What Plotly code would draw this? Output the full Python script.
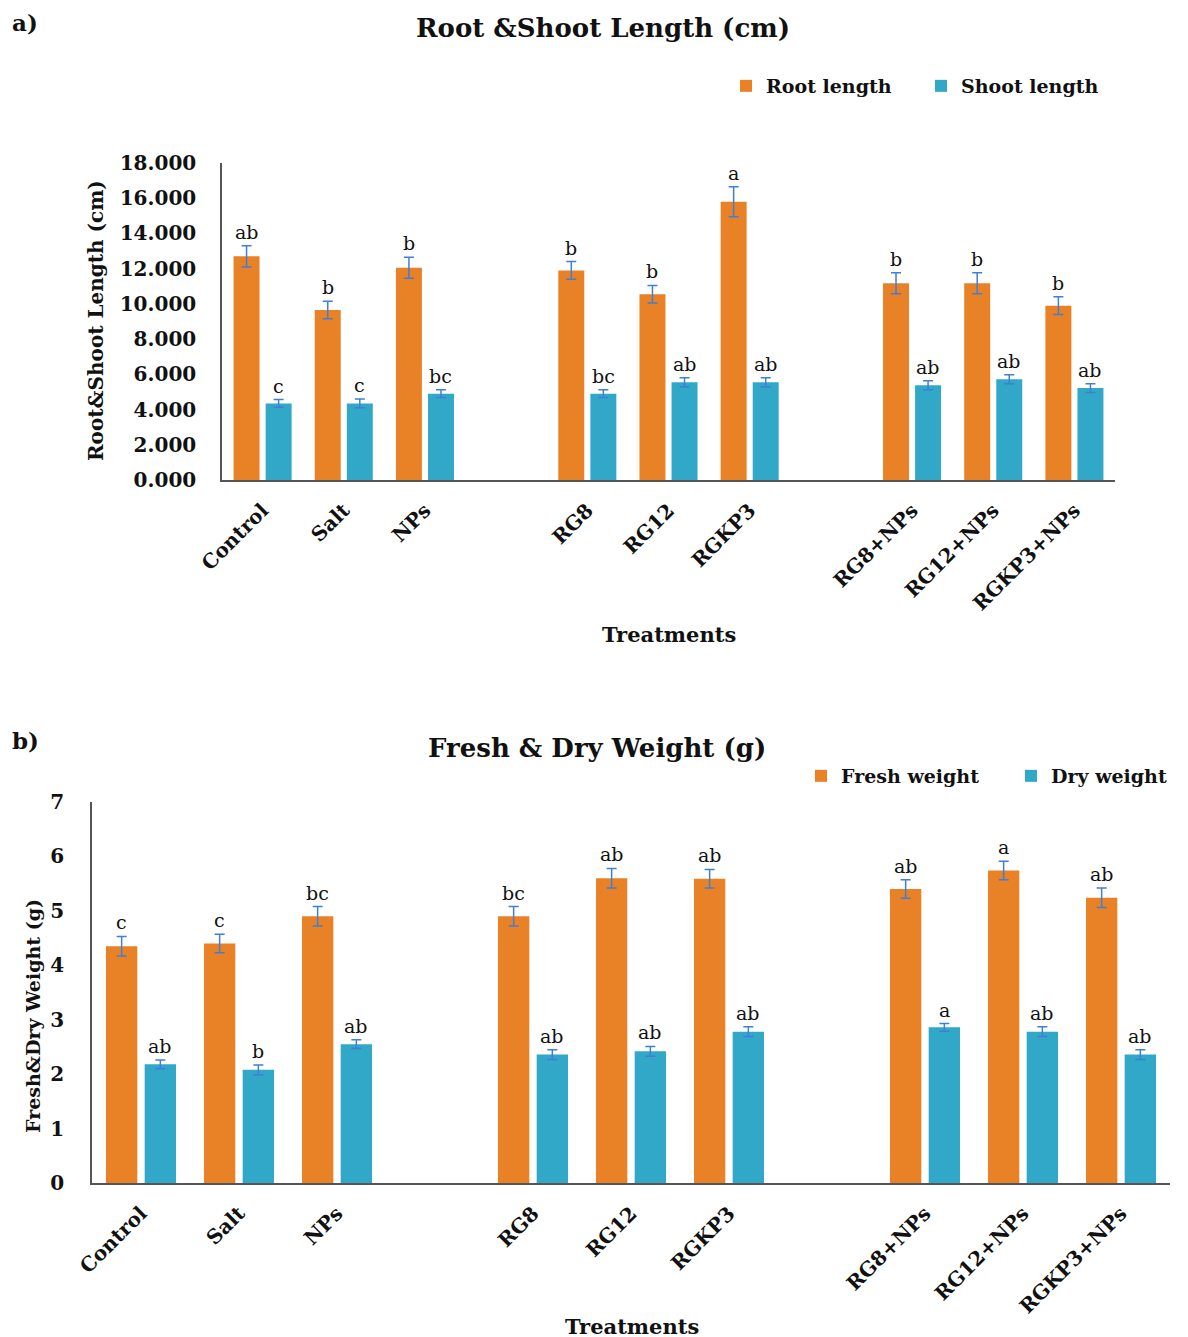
import plotly.graph_objects as go

# ---------------- data ----------------
treatments = ["Control", "Salt", "NPs", "RG8", "RG12", "RGKP3", "RG8+NPs", "RG12+NPs", "RGKP3+NPs"]
slots = [0, 1, 2, 4, 5, 6, 8, 9, 10]   # blank slots 3 and 7 separate the groups

root_length = [12.70, 9.65, 12.05, 11.90, 10.55, 15.80, 11.17, 11.17, 9.90]
root_err = [0.60, 0.50, 0.60, 0.50, 0.50, 0.85, 0.60, 0.60, 0.50]
root_letters = ["ab", "b", "b", "b", "b", "a", "b", "b", "b"]

shoot_length = [4.35, 4.35, 4.90, 4.90, 5.55, 5.55, 5.38, 5.72, 5.22]
shoot_err = [0.22, 0.25, 0.22, 0.22, 0.25, 0.25, 0.25, 0.25, 0.25]
shoot_letters = ["c", "c", "bc", "bc", "ab", "ab", "ab", "ab", "ab"]

fresh_weight = [4.35, 4.40, 4.90, 4.90, 5.60, 5.59, 5.40, 5.74, 5.24]
fresh_err = [0.18, 0.17, 0.18, 0.18, 0.18, 0.17, 0.17, 0.17, 0.18]
fresh_letters = ["c", "c", "bc", "bc", "ab", "ab", "ab", "a", "ab"]

dry_weight = [2.18, 2.08, 2.55, 2.36, 2.42, 2.78, 2.86, 2.78, 2.36]
dry_err = [0.08, 0.09, 0.08, 0.09, 0.09, 0.09, 0.07, 0.09, 0.09]
dry_letters = ["ab", "b", "ab", "ab", "ab", "ab", "a", "ab", "ab"]

yticks_a = [0, 2, 4, 6, 8, 10, 12, 14, 16, 18]
yticks_b = [0, 1, 2, 3, 4, 5, 6, 7]

# ---------------- style ----------------
W, H = 1188, 1337
OX, OY = 8, 8          # page body margin offset
FONT = "DejaVu Serif"
ORANGE = "#E98127"
CYAN = "#31A8C8"
ERRC = "#3F7FD6"
AXC = "#555555"
TXT = "#111111"
BARGAP = 0.21
BARGROUPGAP = 0.19
OFF = (1 - BARGAP) / 4.0


def px_x(p):
    return (p - OX) / W


def px_y(p):
    return 1 - (p - OY) / H


fig = go.Figure()


def add_pair(vals1, err1, name1, vals2, err2, name2, xa, ya, legend):
    fig.add_trace(go.Bar(
        x=slots, y=vals1, name="<b>" + name1 + "</b>", marker=dict(color=ORANGE, line=dict(width=0)),
        error_y=dict(type="data", array=err1, color=ERRC, thickness=1.5, width=5),
        xaxis=xa, yaxis=ya, legend=legend))
    fig.add_trace(go.Bar(
        x=slots, y=vals2, name="<b>" + name2 + "</b>", marker=dict(color=CYAN, line=dict(width=0)),
        error_y=dict(type="data", array=err2, color=ERRC, thickness=1.5, width=5),
        xaxis=xa, yaxis=ya, legend=legend))


add_pair(root_length, root_err, "Root length", shoot_length, shoot_err, "Shoot length", "x", "y", "legend")
add_pair(fresh_weight, fresh_err, "Fresh weight", dry_weight, dry_err, "Dry weight", "x2", "y2", "legend2")

annotations = []


def add_letters(vals, errs, letters, sign, xref, yref):
    for s, v, e, t in zip(slots, vals, errs, letters):
        annotations.append(dict(
            x=s + sign * OFF, y=v + e, xref=xref, yref=yref, text=t, showarrow=False,
            yanchor="bottom", yshift=1, font=dict(family=FONT, size=19, color=TXT)))


add_letters(root_length, root_err, root_letters, -1, "x", "y")
add_letters(shoot_length, shoot_err, shoot_letters, 1, "x", "y")
add_letters(fresh_weight, fresh_err, fresh_letters, -1, "x2", "y2")
add_letters(dry_weight, dry_err, dry_letters, 1, "x2", "y2")


def text_ann(text, x, y, size, angle=0, color=TXT):
    annotations.append(dict(
        x=px_x(x), y=px_y(y), xref="paper", yref="paper", text="<b>" + text + "</b>",
        showarrow=False, xanchor="center", yanchor="middle", textangle=angle,
        font=dict(family=FONT, size=size, color=color)))


# panel labels
text_ann("a)", 25, 22, 23)
text_ann("b)", 25, 740, 23)

text_ann("Root &amp;Shoot Length (cm)", 603, 28, 26)
text_ann("Fresh &amp; Dry Weight (g)", 597, 748, 26)
text_ann("Root&amp;Shoot Length (cm)", 96, 321, 20, angle=-90)
text_ann("Fresh&amp;Dry Weight (g)", 33, 1016, 19, angle=-90)
text_ann("Treatments", 669, 634, 21)
text_ann("Treatments", 632, 1326, 21)

tickfont = dict(family=FONT, size=20, color=TXT)
axis_common = dict(showgrid=False, zeroline=False, showline=True, linecolor=AXC, linewidth=1.5,
                   ticks="", tickfont=tickfont, fixedrange=True, automargin=False)

xticktext = ["<b>" + t + "</b>" for t in treatments]

fig.update_layout(
    width=W, height=H, margin=dict(l=0, r=0, t=0, b=0, autoexpand=False),
    paper_bgcolor="white", plot_bgcolor="white",
    barmode="group", bargap=BARGAP, bargroupgap=BARGROUPGAP,
    showlegend=True,
    xaxis=dict(domain=[px_x(222), px_x(1115)], range=[-0.5, 10.5], tickvals=slots,
               ticktext=xticktext, tickangle=-45, ticklabelstandoff=9, anchor="y", **axis_common),
    yaxis=dict(domain=[px_y(480), px_y(163)], range=[0, 18], tickvals=yticks_a,
               ticktext=["<b>%.3f</b>" % v for v in yticks_a], anchor="x",
               ticklabelstandoff=20, **axis_common),
    xaxis2=dict(domain=[px_x(92), px_x(1170)], range=[-0.5, 10.5], tickvals=slots,
                ticktext=xticktext, tickangle=-45, ticklabelstandoff=9, anchor="y2", **axis_common),
    yaxis2=dict(domain=[px_y(1183), px_y(802)], range=[0, 7], tickvals=yticks_b,
                ticktext=["<b>%d</b>" % v for v in yticks_b], anchor="x2",
                ticklabelstandoff=22, **axis_common),
    legend=dict(orientation="h", x=px_x(726), xanchor="left", y=px_y(67), yanchor="top",
                font=dict(family=FONT, size=19, color=TXT), bgcolor="rgba(0,0,0,0)",
                traceorder="normal", itemwidth=30, entrywidth=150),
    legend2=dict(orientation="h", x=px_x(801), xanchor="left", y=px_y(757), yanchor="top",
                 font=dict(family=FONT, size=19, color=TXT), bgcolor="rgba(0,0,0,0)",
                 traceorder="normal", itemwidth=30, entrywidth=165),
    annotations=annotations,
)

fig.write_html("out.html")
